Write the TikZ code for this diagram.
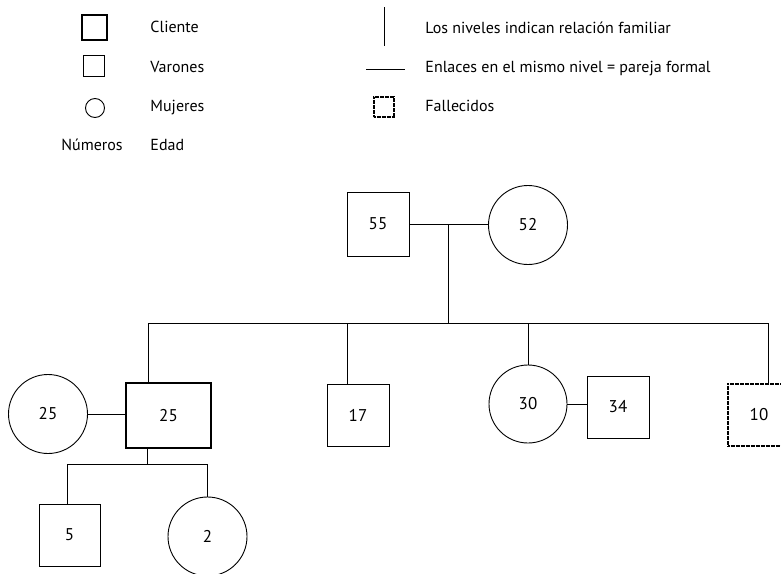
\documentclass[tikz,border=0pt]{standalone}
\usepackage{fontspec}
\setmainfont{PT Sans}
\begin{document}
\begin{tikzpicture}[x=1pt,y=-1pt,line width=0.9pt,
  male/.style={draw,rectangle,inner sep=0pt,minimum width=62pt,minimum height=62pt,font=\fontsize{17}{20}\selectfont},
  female/.style={draw,circle,inner sep=0pt,minimum size=79pt,font=\fontsize{17}{20}\selectfont},
  client/.style={male,line width=2pt,minimum width=85pt,minimum height=65pt},
  deceased/.style={male,line width=2.6pt,dash pattern=on 2pt off 0.5pt},
  legtext/.style={anchor=base west,inner sep=0pt,font=\fontsize{16}{19}\selectfont}]
\useasboundingbox (0,0) rectangle (781,573);

% ---- legend ----
\node[client,minimum width=25pt,minimum height=25pt] (kclient) at (94.5,27.5) {};
\node[male,minimum width=21pt,minimum height=21pt] (kmale) at (94,65.5) {};
\node[female,minimum size=19pt] (kfemale) at (95,108) {};
\node[legtext,anchor=base] (knum) at (92,150.5) {Números};
\node[legtext] (tclient) at (150,32) {Cliente};
\node[legtext] (tmale) at (150,72.5) {Varones};
\node[legtext] (tfemale) at (150,111.5) {Mujeres};
\node[legtext] (tage) at (150,150.5) {Edad};

\coordinate (kv1) at (384,7);
\coordinate (kv2) at (384,46);
\draw (kv1) -- (kv2);
\coordinate (kh1) at (366,69);
\coordinate (kh2) at (405,69);
\draw (kh1) -- (kh2);
\node[deceased,line width=2.2pt,minimum width=20pt,minimum height=20pt] (kdead) at (384,107) {};
\node[legtext] (tlevel) at (425,33) {Los niveles indican relación familiar};
\node[legtext] (tlink) at (425,72.5) {Enlaces en el mismo nivel = pareja formal};
\node[legtext] (tdead) at (425,111.5) {Fallecidos};

% ---- grandparents ----
\node[male,minimum height=64pt] (g55) at (378,224) {55};
\node[female] (g52) at (528,225) {52};
\draw (g55.east) -- (g55.east -| g52.west);
\coordinate (gj) at (448,224);
\coordinate (bm) at (448,323);
\draw (gj) -- (bm);

% ---- sibling bar ----
\coordinate (bl) at (148,323);
\coordinate (br) at (768,323);
\coordinate (b17) at (347,323);
\coordinate (b30) at (528,323);
\draw (bl) -- (br);

% ---- children ----
\node[client] (cl) at (168.5,415.5) {25};
\node[female] (wife) at (48,414) {25};
\node[male] (s17) at (358,415) {17};
\node[female,minimum size=78pt] (d30) at (528,404) {30};
\node[male] (h34) at (618,407) {34};
\node[deceased] (d10) at (759,415) {10};

\draw (bl) -- (bl |- cl.north);
\draw (b17) -- (b17 |- s17.north);
\draw (b30) -- (d30.north);
\draw (br) -- (br |- d10.north);
\draw (wife.east) -- (wife.east -| cl.west);
\draw (d30.east) -- (d30.east -| h34.west);

% ---- grandchildren ----
\node[male,minimum width=61pt] (c5) at (69.5,535) {5};
\node[female] (c2) at (207.5,536.5) {2};
\coordinate (cj) at (147,464);
\coordinate (cjl) at (67,464);
\coordinate (cjr) at (207.5,464);
\draw (cj |- cl.south) -- (cj);
\draw (cjl) -- (cjr);
\draw (cjl) -- (cjl |- c5.north);
\draw (cjr) -- (c2.north);
\end{tikzpicture}
\end{document}
